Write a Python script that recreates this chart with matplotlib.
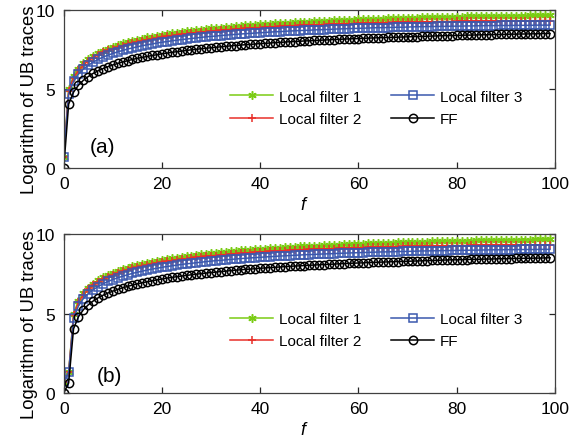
import numpy as np
import matplotlib
matplotlib.use('Agg')
import matplotlib.pyplot as plt

plt.rcParams['font.family'] = ['Liberation Sans', 'DejaVu Sans']

f = np.arange(100)

# panel (a)
lf1_a = [0.70, 4.99, 5.82, 6.29, 6.63, 6.89, 7.10, 7.28, 7.43, 7.56,
         7.68, 7.78, 7.88, 7.97, 8.05, 8.12, 8.19, 8.26, 8.32, 8.37,
         8.43, 8.48, 8.52, 8.57, 8.61, 8.65, 8.69, 8.73, 8.76, 8.79,
         8.83, 8.86, 8.89, 8.92, 8.94, 8.97, 9.00, 9.02, 9.04, 9.07,
         9.09, 9.11, 9.13, 9.15, 9.17, 9.19, 9.20, 9.22, 9.24, 9.25,
         9.27, 9.28, 9.30, 9.31, 9.33, 9.34, 9.35, 9.37, 9.38, 9.39,
         9.40, 9.41, 9.43, 9.44, 9.45, 9.46, 9.47, 9.48, 9.49, 9.49,
         9.50, 9.51, 9.52, 9.53, 9.54, 9.54, 9.55, 9.56, 9.57, 9.57,
         9.58, 9.58, 9.59, 9.60, 9.60, 9.61, 9.61, 9.62, 9.62, 9.63,
         9.64, 9.64, 9.64, 9.65, 9.65, 9.66, 9.66, 9.67, 9.67, 9.67]
lf2_a = [0.70, 4.89, 5.71, 6.18, 6.52, 6.78, 6.98, 7.16, 7.31, 7.44,
         7.55, 7.66, 7.75, 7.84, 7.91, 7.98, 8.05, 8.12, 8.17, 8.22,
         8.28, 8.33, 8.37, 8.41, 8.45, 8.49, 8.53, 8.56, 8.59, 8.62,
         8.65, 8.68, 8.71, 8.74, 8.76, 8.78, 8.81, 8.83, 8.85, 8.87,
         8.89, 8.91, 8.92, 8.94, 8.96, 8.97, 8.99, 9.00, 9.02, 9.03,
         9.04, 9.05, 9.07, 9.08, 9.09, 9.10, 9.11, 9.13, 9.14, 9.14,
         9.15, 9.16, 9.17, 9.18, 9.19, 9.20, 9.20, 9.21, 9.22, 9.22,
         9.23, 9.23, 9.24, 9.25, 9.25, 9.25, 9.26, 9.27, 9.27, 9.27,
         9.28, 9.28, 9.29, 9.29, 9.29, 9.30, 9.30, 9.30, 9.30, 9.31,
         9.31, 9.31, 9.31, 9.32, 9.32, 9.32, 9.32, 9.33, 9.33, 9.33]
lf3_a = [0.70, 4.69, 5.48, 5.94, 6.26, 6.50, 6.70, 6.87, 7.02, 7.14,
         7.25, 7.35, 7.44, 7.53, 7.60, 7.67, 7.74, 7.80, 7.85, 7.91,
         7.96, 8.00, 8.05, 8.09, 8.13, 8.16, 8.20, 8.23, 8.27, 8.30,
         8.33, 8.35, 8.38, 8.41, 8.43, 8.46, 8.48, 8.50, 8.52, 8.54,
         8.56, 8.58, 8.60, 8.62, 8.63, 8.65, 8.67, 8.68, 8.70, 8.71,
         8.72, 8.74, 8.75, 8.76, 8.77, 8.79, 8.80, 8.81, 8.82, 8.83,
         8.84, 8.85, 8.86, 8.87, 8.88, 8.88, 8.89, 8.90, 8.91, 8.91,
         8.92, 8.93, 8.94, 8.94, 8.95, 8.95, 8.96, 8.96, 8.97, 8.97,
         8.98, 8.98, 8.99, 8.99, 9.00, 9.00, 9.01, 9.01, 9.01, 9.02,
         9.02, 9.02, 9.03, 9.03, 9.03, 9.03, 9.04, 9.04, 9.04, 9.04]
ff_a = [0.00, 4.04, 4.80, 5.24, 5.55, 5.79, 5.99, 6.15, 6.29, 6.41,
        6.52, 6.62, 6.71, 6.79, 6.87, 6.94, 7.00, 7.06, 7.12, 7.17,
        7.23, 7.27, 7.32, 7.36, 7.40, 7.44, 7.48, 7.51, 7.55, 7.58,
        7.61, 7.64, 7.67, 7.70, 7.73, 7.75, 7.78, 7.80, 7.82, 7.85,
        7.87, 7.89, 7.91, 7.93, 7.95, 7.97, 7.99, 8.00, 8.02, 8.04,
        8.05, 8.07, 8.08, 8.10, 8.11, 8.13, 8.14, 8.16, 8.17, 8.18,
        8.19, 8.21, 8.22, 8.23, 8.24, 8.25, 8.26, 8.27, 8.28, 8.29,
        8.30, 8.31, 8.32, 8.33, 8.34, 8.35, 8.36, 8.37, 8.38, 8.38,
        8.39, 8.40, 8.41, 8.41, 8.42, 8.43, 8.43, 8.44, 8.45, 8.45,
        8.46, 8.47, 8.47, 8.48, 8.48, 8.49, 8.49, 8.50, 8.51, 8.51]

# panel (b)
lf1_b = [0.70, 1.30, 4.99, 5.82, 6.29, 6.63, 6.89, 7.10, 7.28, 7.43,
         7.56, 7.68, 7.78, 7.88, 7.97, 8.05, 8.12, 8.19, 8.26, 8.32,
         8.37, 8.43, 8.48, 8.52, 8.57, 8.61, 8.65, 8.69, 8.73, 8.76,
         8.79, 8.83, 8.86, 8.89, 8.92, 8.94, 8.97, 9.00, 9.02, 9.04,
         9.07, 9.09, 9.11, 9.13, 9.15, 9.17, 9.19, 9.20, 9.22, 9.24,
         9.25, 9.27, 9.28, 9.30, 9.31, 9.33, 9.34, 9.35, 9.37, 9.38,
         9.39, 9.40, 9.41, 9.43, 9.44, 9.45, 9.46, 9.47, 9.48, 9.49,
         9.49, 9.50, 9.51, 9.52, 9.53, 9.54, 9.54, 9.55, 9.56, 9.57,
         9.57, 9.58, 9.58, 9.59, 9.60, 9.60, 9.61, 9.61, 9.62, 9.62,
         9.63, 9.64, 9.64, 9.64, 9.65, 9.65, 9.66, 9.66, 9.67, 9.67]
lf2_b = [0.70, 1.30, 4.89, 5.71, 6.18, 6.52, 6.78, 6.98, 7.16, 7.31,
         7.44, 7.55, 7.66, 7.75, 7.84, 7.91, 7.98, 8.05, 8.12, 8.17,
         8.22, 8.28, 8.33, 8.37, 8.41, 8.45, 8.49, 8.53, 8.56, 8.59,
         8.62, 8.65, 8.68, 8.71, 8.74, 8.76, 8.78, 8.81, 8.83, 8.85,
         8.87, 8.89, 8.91, 8.92, 8.94, 8.96, 8.97, 8.99, 9.00, 9.02,
         9.03, 9.04, 9.05, 9.07, 9.08, 9.09, 9.10, 9.11, 9.13, 9.14,
         9.14, 9.15, 9.16, 9.17, 9.18, 9.19, 9.20, 9.20, 9.21, 9.22,
         9.22, 9.23, 9.23, 9.24, 9.25, 9.25, 9.25, 9.26, 9.27, 9.27,
         9.27, 9.28, 9.28, 9.29, 9.29, 9.29, 9.30, 9.30, 9.30, 9.30,
         9.31, 9.31, 9.31, 9.31, 9.32, 9.32, 9.32, 9.32, 9.33, 9.33]
lf3_b = [0.70, 1.30, 4.69, 5.48, 5.94, 6.26, 6.50, 6.70, 6.87, 7.02,
         7.14, 7.25, 7.35, 7.44, 7.53, 7.60, 7.67, 7.74, 7.80, 7.85,
         7.91, 7.96, 8.00, 8.05, 8.09, 8.13, 8.16, 8.20, 8.23, 8.27,
         8.30, 8.33, 8.35, 8.38, 8.41, 8.43, 8.46, 8.48, 8.50, 8.52,
         8.54, 8.56, 8.58, 8.60, 8.62, 8.63, 8.65, 8.67, 8.68, 8.70,
         8.71, 8.72, 8.74, 8.75, 8.76, 8.77, 8.79, 8.80, 8.81, 8.82,
         8.83, 8.84, 8.85, 8.86, 8.87, 8.88, 8.88, 8.89, 8.90, 8.91,
         8.91, 8.92, 8.93, 8.94, 8.94, 8.95, 8.95, 8.96, 8.96, 8.97,
         8.97, 8.98, 8.98, 8.99, 8.99, 9.00, 9.00, 9.01, 9.01, 9.01,
         9.02, 9.02, 9.02, 9.03, 9.03, 9.03, 9.03, 9.04, 9.04, 9.04]
ff_b = [0.00, 0.63, 4.04, 4.80, 5.24, 5.55, 5.79, 5.99, 6.15, 6.29,
        6.41, 6.52, 6.62, 6.71, 6.79, 6.87, 6.94, 7.00, 7.06, 7.12,
        7.17, 7.23, 7.27, 7.32, 7.36, 7.40, 7.44, 7.48, 7.51, 7.55,
        7.58, 7.61, 7.64, 7.67, 7.70, 7.73, 7.75, 7.78, 7.80, 7.82,
        7.85, 7.87, 7.89, 7.91, 7.93, 7.95, 7.97, 7.99, 8.00, 8.02,
        8.04, 8.05, 8.07, 8.08, 8.10, 8.11, 8.13, 8.14, 8.16, 8.17,
        8.18, 8.19, 8.21, 8.22, 8.23, 8.24, 8.25, 8.26, 8.27, 8.28,
        8.29, 8.30, 8.31, 8.32, 8.33, 8.34, 8.35, 8.36, 8.37, 8.38,
        8.38, 8.39, 8.40, 8.41, 8.41, 8.42, 8.43, 8.43, 8.44, 8.45,
        8.45, 8.46, 8.47, 8.47, 8.48, 8.48, 8.49, 8.49, 8.50, 8.51]

labels = ['Local filter 1', 'Local filter 2', 'Local filter 3', 'FF']
colors = ['#7ACC14', '#E8302A', '#3B58AE', 'black']
markers = [(6, 2, 0), '+', 's', 'o']

fig = plt.figure(figsize=(5.82, 4.39), dpi=100)
ax_a = fig.add_axes([0.1095, 0.615, 0.844, 0.360])
ax_b = fig.add_axes([0.1095, 0.1025, 0.844, 0.362])

panels = [
    (ax_a, [lf1_a, lf2_a, lf3_a, ff_a], '(a)', (0.053, 0.133), 0.495),
    (ax_b, [lf1_b, lf2_b, lf3_b, ff_b], '(b)', (0.068, 0.107), 0.51),
]

for ax, series, tag, tagpos, legy in panels:
    for ys, lab, c, m in zip(series, labels, colors, markers):
        ax.plot(f, ys, color=c, marker=m, markersize=6, lw=1.1,
                markerfacecolor='none', markeredgewidth=1.1, label=lab)
    ax.set_xlim(0, 100)
    ax.set_ylim(0, 10)
    ax.set_xticks([0, 20, 40, 60, 80, 100])
    ax.set_yticks([0, 5, 10])
    ax.tick_params(direction='in', top=True, right=True, length=4.5,
                   width=0.9, labelsize=12.5, pad=6, colors='#262626',
                   labelcolor='black')
    for s in ax.spines.values():
        s.set_color('#404040')
        s.set_linewidth(0.9)
    ax.set_xlabel('f', fontsize=13, style='italic')
    ax.xaxis.set_label_coords(0.487, -0.175)
    ax.set_ylabel('Logarithm of UB traces', fontsize=13.3)
    ax.yaxis.set_label_coords(-0.053, 0.437)
    ax.text(tagpos[0], tagpos[1], tag, transform=ax.transAxes,
            fontsize=15, ha='left', va='center')
    ax.legend(loc='upper left', bbox_to_anchor=(0.339, legy), ncol=2,
              frameon=False, fontsize=11, borderpad=0, borderaxespad=0,
              handlelength=2.8, handletextpad=0.4, columnspacing=1.95,
              labelspacing=0.55)

fig.savefig('out.png', dpi=100)
